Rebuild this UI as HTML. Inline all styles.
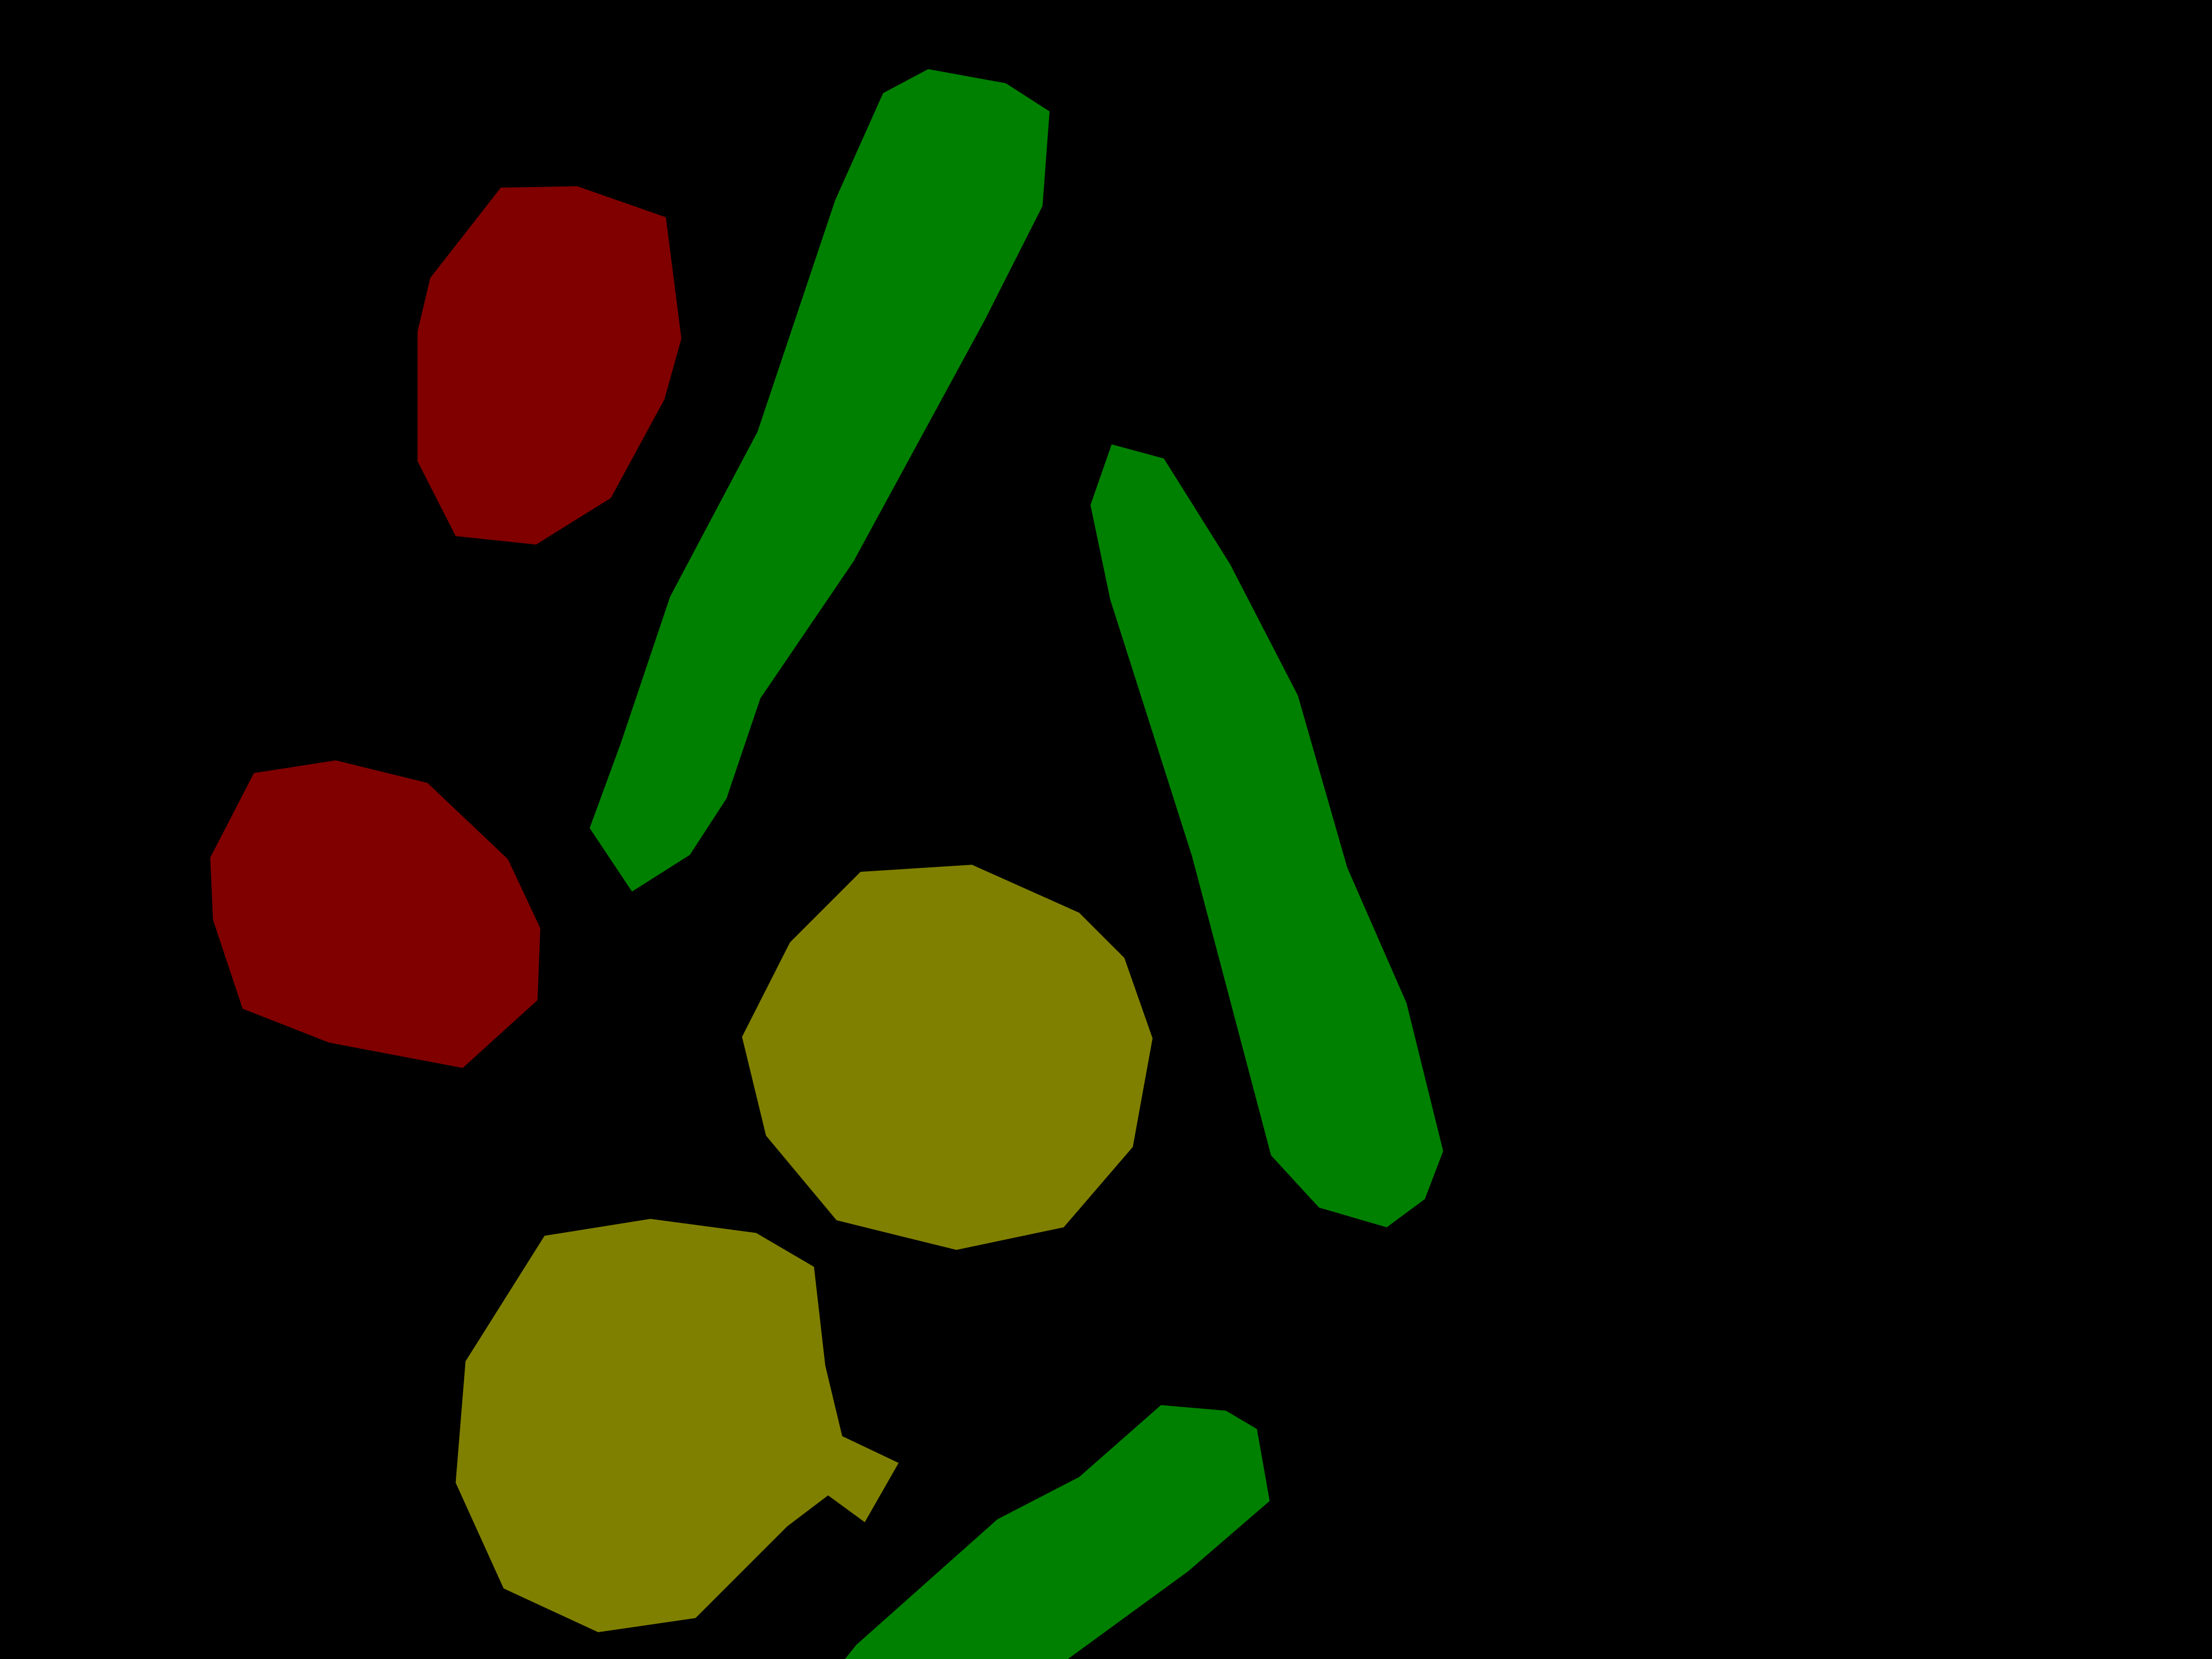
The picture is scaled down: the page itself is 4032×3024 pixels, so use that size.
<!DOCTYPE html>
<html>
<head>
<meta charset="utf-8">
<style>
  html,body{margin:0;padding:0;background:#000;}
  svg{display:block;}
</style>
</head>
<body>
<svg width="4032" height="3024" viewBox="0 0 1568 1176" preserveAspectRatio="none" xmlns="http://www.w3.org/2000/svg">
  <rect x="0" y="0" width="1568" height="1176" fill="#000"/>
  <polygon fill="#800000"
    points="355,133 409,132 472,154 483,240 471,283 433,353 380,386 323,380 296,327 296,235 305,197"/>
  <polygon fill="#008000"
    points="626,66 658,49 713,59 744,79 739,146 698,227 605,398 539,495 515,566 489,606 448,632 418,587 440,527 475,423 537,306 592,142"/>
  <polygon fill="#008000"
    points="788,315 825,325 872,400 920,493 955,615 997,711 1023,816 1010,850 983,870 935,856 901,819 845,607 787,425 773,358"/>
  <polygon fill="#800000"
    points="180,548 238,539 303,555 360,609 383,658 381,709 328,757 233,739 172,715 151,652 149,608"/>
  <polygon fill="#808000"
    points="610,618 689,613 765,647 797,679 817,736 803,813 754,870 678,886 593,865 543,805 526,735 560,668"/>
  <polygon fill="#808000"
    points="386,876 461,864 536,874 577,898 585,968 597,1018 637,1037 613,1079 587,1060 558,1082 493,1147 424,1157 357,1126 323,1051 330,965"/>
  <polygon fill="#008000"
    points="823,996 869,1000 891,1013 900,1064 842,1114 757,1176 599,1176 607,1166 707,1077 765,1047"/>
</svg>
</body>
</html>
